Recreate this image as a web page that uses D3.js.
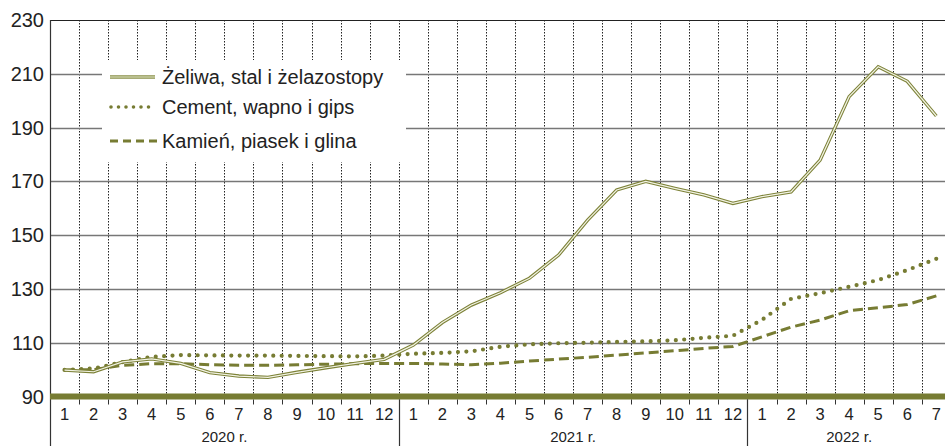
<!DOCTYPE html>
<html>
<head>
<meta charset="utf-8">
<script src="https://cdn.jsdelivr.net/npm/d3@7"></script>
<style>
  body { margin: 0; background: #fff; }
  svg { display: block; font-family: "Liberation Sans", Arial, sans-serif; }
</style>
</head>
<body>
<div id="chart"></div>
<script>
// NOTE data, months 2020-01 .. 2022-07
var years = ['2020 r.', '2021 r.', '2022 r.'];
var yearMonths = [12, 12, 7];
var yTicks = [90, 110, 130, 150, 170, 190, 210, 230];

var zeliwa = [
	99.8, 99.2, 102.9, 104.0, 102.3, 98.9, 97.6, 97.1, 99.0, 100.7, 102.3, 103.8,
	109.1, 117.5, 124.0, 128.6, 134.0, 142.6, 155.6, 166.8, 170.0, 167.4, 165.0, 161.8,
	164.3, 166.1, 177.9, 201.5, 212.6, 207.2, 194.3
];
var cement = [
	99.9, 100.4, 102.8, 104.7, 105.4, 105.3, 105.2, 105.2, 105.1, 105.0, 104.9, 105.2,
	105.9, 106.2, 106.8, 108.5, 109.4, 109.8, 110.0, 110.3, 110.5, 110.9, 111.8, 112.6,
	118.5, 126.3, 128.4, 130.8, 133.3, 137.0, 141.2
];
var kamien = [
	99.9, 100.0, 101.6, 102.2, 102.2, 101.8, 101.6, 101.6, 101.8, 102.0, 102.2, 102.3,
	102.3, 102.1, 101.8, 102.4, 103.2, 103.9, 104.6, 105.4, 106.2, 107.0, 107.9, 108.6,
	112.2, 115.8, 118.4, 121.9, 123.0, 124.2, 127.4
];
var legendNames = ['Żeliwa, stal i żelazostopy', 'Cement, wapno i gips', 'Kamień, piasek i glina'];

var olive = '#777c33';

var W = 945, H = 446;
var plotLeft = 50, plotTop = 20, base = 396.5;
var step = 29.06;

var monthLabels = [];
yearMonths.forEach(function (n) {
	for (var m = 1; m <= n; m++) monthLabels.push(m);
});
var idx = d3.range(monthLabels.length);

var x = d3.scaleBand().domain(idx).range([plotLeft, plotLeft + step * idx.length]);
var y = d3.scaleLinear().domain([90, 230]).range([base, plotTop]);

var svg = d3.select('#chart').append('svg').attr('width', W).attr('height', H);

// vertical dotted grid at month boundaries
svg.append('g').selectAll('line')
	.data(idx.slice(1))
	.enter()
	.append('line')
	.attr('x1', function (d) { return Math.round(x(d)) + 0.5; })
	.attr('x2', function (d) { return Math.round(x(d)) + 0.5; })
	.attr('y1', plotTop)
	.attr('y2', base)
	.attr('stroke', '#222')
	.attr('stroke-width', 1)
	.attr('stroke-dasharray', '1.5 1.5');

// horizontal grid
svg.append('g').selectAll('line')
	.data(yTicks.slice(1))
	.enter()
	.append('line')
	.attr('x1', plotLeft)
	.attr('x2', W)
	.attr('y1', function (d) { return Math.round(y(d)) + 0.5; })
	.attr('y2', function (d) { return Math.round(y(d)) + 0.5; })
	.attr('stroke', function (d) { return d === 230 ? '#222' : '#777'; })
	.attr('stroke-width', function (d) { return d === 230 ? 1.2 : 1.6; });

// legend background hides grid
svg.append('rect')
	.attr('x', 102).attr('y', 60)
	.attr('width', 304).attr('height', 102)
	.attr('fill', '#fff');

// y labels
svg.append('g').selectAll('text')
	.data(yTicks)
	.enter()
	.append('text')
	.attr('x', 44)
	.attr('y', function (d) { return y(d) + 7; })
	.attr('text-anchor', 'end')
	.attr('font-size', 20)
	.attr('fill', '#222')
	.text(function (d) { return d; });

// left axis line
svg.append('line')
	.attr('x1', plotLeft + 0.5).attr('x2', plotLeft + 0.5)
	.attr('y1', plotTop).attr('y2', H)
	.attr('stroke', '#333').attr('stroke-width', 1.2);

var line = d3.line()
	.x(function (d, i) { return x(i) + x.bandwidth() / 2; })
	.y(function (d) { return y(d); });

// kamien - dashed
svg.append('path')
	.datum(kamien)
	.attr('d', line)
	.attr('fill', 'none')
	.attr('stroke', olive)
	.attr('stroke-width', 3)
	.attr('stroke-dasharray', '10 5');

// cement - dotted
svg.append('path')
	.datum(cement)
	.attr('d', line)
	.attr('fill', 'none')
	.attr('stroke', olive)
	.attr('stroke-width', 4.2)
	.attr('stroke-linecap', 'round')
	.attr('stroke-dasharray', '0 8.4');

// zeliwa - double line
svg.append('path')
	.datum(zeliwa)
	.attr('d', line)
	.attr('fill', 'none')
	.attr('stroke', '#7d8238')
	.attr('stroke-width', 3.4);
svg.append('path')
	.datum(zeliwa)
	.attr('d', line)
	.attr('fill', 'none')
	.attr('stroke', '#f2f3e4')
	.attr('stroke-width', 1.2);

// thick baseline
svg.append('rect')
	.attr('x', plotLeft).attr('y', base - 3)
	.attr('width', W - plotLeft).attr('height', 6)
	.attr('fill', olive);

// month ticks below baseline
svg.append('g').selectAll('line')
	.data(idx.slice(1))
	.enter()
	.append('line')
	.attr('x1', function (d) { return Math.round(x(d)) + 0.5; })
	.attr('x2', function (d) { return Math.round(x(d)) + 0.5; })
	.attr('y1', base + 3)
	.attr('y2', base + 8)
	.attr('stroke', '#333')
	.attr('stroke-width', 1);

// month labels
svg.append('g').selectAll('text')
	.data(idx)
	.enter()
	.append('text')
	.attr('x', function (d) { return x(d) + x.bandwidth() / 2; })
	.attr('y', 420)
	.attr('text-anchor', 'middle')
	.attr('font-size', 16.5)
	.attr('fill', '#222')
	.text(function (d) { return monthLabels[d]; });

// year separators and labels
var start = 0;
years.forEach(function (yr, k) {
	var a = x(start), b = start + yearMonths[k] < idx.length ? x(start + yearMonths[k]) : plotLeft + step * idx.length;
	if (k > 0) {
		svg.append('line')
			.attr('x1', Math.round(a) + 0.5).attr('x2', Math.round(a) + 0.5)
			.attr('y1', base + 3).attr('y2', H)
			.attr('stroke', '#333').attr('stroke-width', 1.2);
	}
	svg.append('text')
		.attr('x', (a + b) / 2)
		.attr('y', 442)
		.attr('text-anchor', 'middle')
		.attr('font-size', 15)
		.attr('fill', '#222')
		.text(yr);
	start += yearMonths[k];
});

// legend
var lg = svg.append('g');
var ly = [77, 107, 141];
lg.append('line').attr('x1', 110).attr('x2', 155).attr('y1', ly[0]).attr('y2', ly[0])
	.attr('stroke', '#8a8f48').attr('stroke-width', 3.4);
lg.append('line').attr('x1', 110).attr('x2', 155).attr('y1', ly[0]).attr('y2', ly[0])
	.attr('stroke', '#c9cfa6').attr('stroke-width', 1.6);
lg.append('line').attr('x1', 111).attr('x2', 156).attr('y1', ly[1]).attr('y2', ly[1])
	.attr('stroke', olive).attr('stroke-width', 3.6)
	.attr('stroke-linecap', 'round').attr('stroke-dasharray', '0 7.5');
lg.append('line').attr('x1', 110).attr('x2', 157).attr('y1', ly[2]).attr('y2', ly[2])
	.attr('stroke', olive).attr('stroke-width', 2.8).attr('stroke-dasharray', '8 5');
lg.selectAll('text')
	.data(legendNames)
	.enter()
	.append('text')
	.attr('x', 162)
	.attr('y', function (d, i) { return ly[i] + 7; })
	.attr('font-size', 20)
	.attr('fill', '#222')
	.text(function (d) { return d; });
</script>
</body>
</html>
